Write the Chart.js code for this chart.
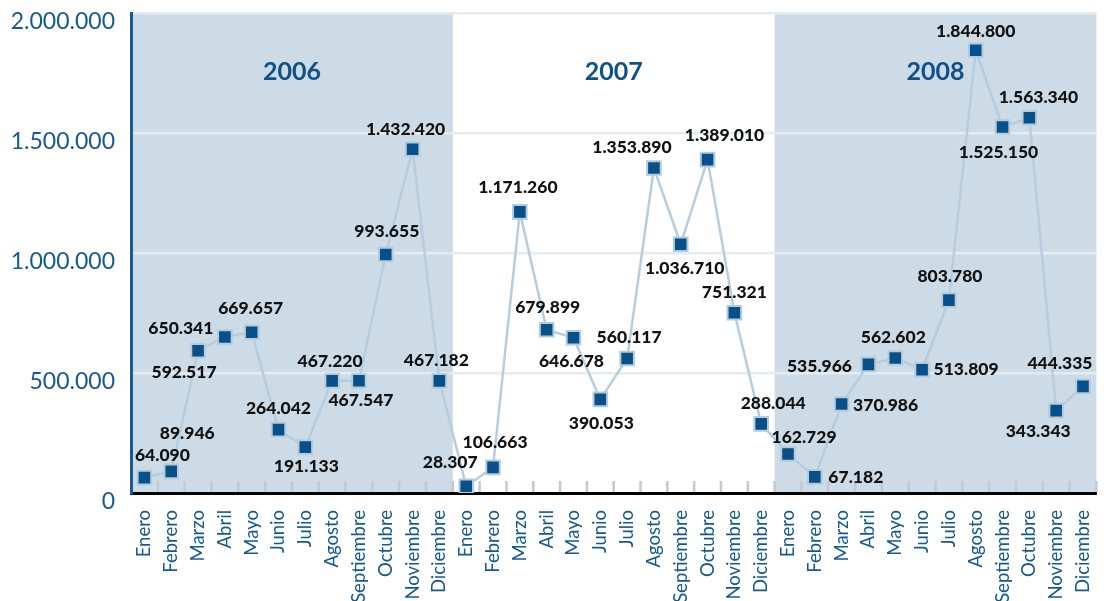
<!DOCTYPE html>
<html>
<head>
<meta charset="utf-8">
<script src="https://cdn.jsdelivr.net/npm/chart.js@4.4.1/dist/chart.umd.min.js"></script>
<style>
  html, body { margin: 0; padding: 0; background: #fff; }
  #wrap { width: 1108px; height: 601px; }
</style>
</head>
<body>
<div id="wrap"><canvas id="lineChart"></canvas></div>
<script>
const years = ['2006', '2007', '2008'];
const months = ['Enero', 'Febrero', 'Marzo', 'Abril', 'Mayo', 'Junio', 'Julio',
    'Agosto', 'Septiembre', 'Octubre', 'Noviembre', 'Diciembre'];
const values2006 = [64090, 89946, 592517, 650341, 669657, 264042, 191133, 467220, 467547, 993655, 1432420, 467182];
const values2007 = [28307, 106663, 1171260, 679899, 646678, 390053, 560117, 1353890, 1036710, 1389010, 751321, 288044];
const values2008 = [162729, 67182, 370986, 535966, 562602, 513809, 803780, 1844800, 1525150, 1563340, 343343, 444335];
const yTicks = [0, 500000, 1000000, 1500000, 2000000];

// where each value label sits relative to its marker (dx, dy in px)
const labelShift = [
    [18, -22], [16, -38], [-14, 22], [-44, -9], [-1, -24], [0, -21],
    [1, 19], [-2, -20], [2, 20], [1, -23], [-7, -20], [-3, -21],
    [-16, -24], [2, -25], [-2, -25], [1, -22], [-2, 24], [1, 24],
    [2, -21], [-22, -21], [4, 24], [17, -24], [0, -20], [12, -21],
    [16, -17], [41, 0], [44, 1], [-49, 2], [-2, -21], [44, 0],
    [1, -24], [0, -19], [-4, 25], [9, -20], [-18, 21], [-23, -23],
];

const labels = years.flatMap(() => months);
const values = [...values2006, ...values2007, ...values2008];

const fmt = v => String(v).replace(/\B(?=(\d{3})+(?!\d))/g, '.');

const BAND = '#ccdbe6';
const BLUE = '#15598f';

const yearBands = {
    id: 'yearBands',
    beforeDraw(chart) {
        const { ctx, chartArea, scales } = chart;
        const x = scales.x;
        const step = (chartArea.right - chartArea.left) / labels.length;
        ctx.save();
        ctx.fillStyle = BAND;
        years.forEach((y, i) => {
            if (i % 2 === 1) return;
            const left = x.getPixelForValue(i * 12) - step / 2;
            ctx.fillRect(left, chartArea.top, step * 12, chartArea.bottom - chartArea.top);
        });
        ctx.restore();
    },
    beforeDatasetsDraw(chart) {
        const { ctx, chartArea, scales } = chart;
        const x = scales.x;
        const step = (chartArea.right - chartArea.left) / labels.length;
        ctx.save();
        // small grey separators above the x axis
        ctx.strokeStyle = '#c6c9cc';
        ctx.lineWidth = 2.5;
        for (let i = 1; i <= labels.length; i++) {
            const px = x.getPixelForValue(i) - step / 2;
            ctx.beginPath();
            ctx.moveTo(px, chartArea.bottom - 12);
            ctx.lineTo(px, chartArea.bottom - 1);
            ctx.stroke();
        }
        // year titles
        ctx.fillStyle = '#0d5189';
        ctx.font = 'bold 25px Lato';
        ctx.textAlign = 'center';
        ctx.textBaseline = 'middle';
        years.forEach((y, i) => {
            const cx = x.getPixelForValue(i * 12) - step / 2 + step * 6;
            ctx.fillText(y, cx, chartArea.top + 59);
        });
        ctx.restore();
    },
    afterDatasetsDraw(chart) {
        const { ctx } = chart;
        const meta = chart.getDatasetMeta(0);
        ctx.save();
        ctx.fillStyle = '#111';
        ctx.font = '900 17.5px Lato';
        ctx.textAlign = 'center';
        ctx.textBaseline = 'middle';
        meta.data.forEach((pt, i) => {
            const [dx, dy] = labelShift[i];
            ctx.fillText(fmt(values[i]), pt.x + dx, pt.y + dy);
        });
        ctx.restore();
    },
};

new Chart(document.getElementById('lineChart'), {
    type: 'line',
    data: {
        labels: labels,
        datasets: [{
            data: values,
            borderColor: '#b6cde0',
            borderWidth: 2.5,
            pointStyle: 'rect',
            pointRadius: 9.6,
            pointBackgroundColor: '#0a5088',
            pointBorderColor: '#b3cbde',
            pointBorderWidth: 2,
            tension: 0,
        }],
    },
    options: {
        responsive: true,
        maintainAspectRatio: false,
        animation: false,
        events: [],
        layout: { padding: { left: 0, right: 6, top: 13, bottom: 0 } },
        plugins: {
            legend: { display: false },
            tooltip: { enabled: false },
        },
        scales: {
            x: {
                type: 'category',
                offset: true,
                grid: { display: false, drawTicks: false },
                border: { display: true, color: '#000', width: 3 },
                ticks: {
                    autoSkip: false,
                    maxRotation: 90,
                    minRotation: 90,
                    padding: 17,
                    color: BLUE,
                    font: { family: 'Lato', size: 18.5 },
                },
                afterFit(scale) {
                    scale.height = 108;
                    scale.paddingLeft = 0;
                    scale.paddingRight = 0;
                },
            },
            y: {
                min: 0,
                max: 2000000,
                afterBuildTicks(scale) { scale.ticks = yTicks.map(v => ({ value: v })); },
                grid: { color: '#e4ebf1', lineWidth: 2.5, drawTicks: false },
                border: { display: true, color: '#1a5a8e', width: 3 },
                ticks: {
                    padding: 16,
                    labelOffset: 9,
                    color: BLUE,
                    font: { family: 'Lato', size: 23 },
                    callback: v => fmt(v),
                },
                afterFit(scale) {
                    scale.width = 131;
                    scale.paddingTop = 0;
                    scale.paddingBottom = 0;
                },
            },
        },
    },
    plugins: [yearBands],
});
</script>
</body>
</html>
